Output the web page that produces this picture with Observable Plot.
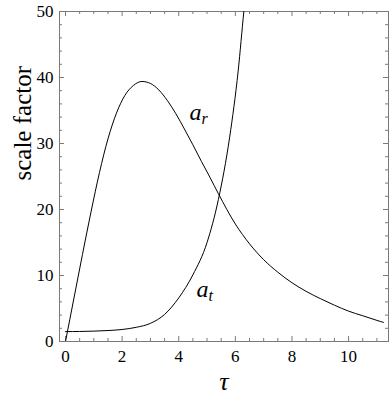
<!DOCTYPE html>
<html><head><meta charset="utf-8">
<script src="https://cdn.jsdelivr.net/npm/d3@7"></script>
<script src="https://cdn.jsdelivr.net/npm/@observablehq/plot@0.6"></script>
<style>body{margin:0;background:#fff}</style>
</head><body><div id="chart"></div>
<script>
// a_r curve (tau, scale factor)
const tauR = [0, 0.3, 0.6, 0.9, 1.2, 1.5, 1.8, 2.1, 2.4, 2.7, 3.0, 3.3, 3.6, 3.9, 4.2, 4.5, 4.8, 5.1, 5.4, 6.0, 6.5, 7.0, 7.5, 8.0, 8.5, 9.0, 9.5, 10.0, 10.5, 11.0, 11.23];
const aR   = [0, 6.6, 13.2, 19.6, 25.6, 30.7, 34.6, 37.3, 38.8, 39.4, 39.1, 38.1, 36.5, 34.5, 32.2, 29.8, 27.3, 24.9, 22.4, 17.8, 14.8, 12.4, 10.5, 8.9, 7.6, 6.5, 5.5, 4.6, 3.9, 3.2, 2.9];
// a_t curve
const tauT = [0, 0.5, 1.0, 1.5, 2.0, 2.5, 3.0, 3.5, 4.0, 4.5, 5.0, 5.4, 5.8, 6.1, 6.3, 6.5];
const aT   = [1.5, 1.52, 1.57, 1.66, 1.82, 2.15, 2.75, 4.1, 6.6, 10.1, 15.0, 21.5, 31.0, 41.0, 50.0, 58.0];
// ticks
const xMajor = [0, 2, 4, 6, 8, 10];
const xMinor = [0.5, 1, 1.5, 2.5, 3, 3.5, 4.5, 5, 5.5, 6.5, 7, 7.5, 8.5, 9, 9.5, 10.5, 11];
const yMajor = [0, 10, 20, 30, 40, 50];
const yMinor = [2, 4, 6, 8, 12, 14, 16, 18, 22, 24, 26, 28, 32, 34, 36, 38, 42, 44, 46, 48];
// curve labels: base letter, subscript, anchor (tau, a)
const labelBase = ["a", "a"];
const labelSub = ["r", "t"];
const labelTau = [4.38, 4.63];
const labelA = [33.6, 6.8];

const rCurve = tauR.map((t, i) => ({t, a: aR[i]}));
const tCurve = tauT.map((t, i) => ({t, a: aT[i]}));
const labels = labelBase.map((b, i) => ({b, s: labelSub[i], t: labelTau[i], a: labelA[i]}));

const W = 389, H = 403, mL = 59, mR = 1, mT = 11, mB = 62;
const xDom = [-0.212, 11.41], yDom = [0, 50];
// pixel tick lengths converted to data units
const ux = (xDom[1] - xDom[0]) / (W - mL - mR);
const uy = (yDom[1] - yDom[0]) / (H - mT - mB);
const gray = "#7a7a7a";
const ff = "Liberation Serif";
const ruleStyle = {stroke: gray, strokeWidth: 1};
const xTicks = (data, px) => [
  Plot.ruleX(data, {x: d => d, y1: yDom[0], y2: yDom[0] + px * uy, ...ruleStyle}),
  Plot.ruleX(data, {x: d => d, y1: yDom[1], y2: yDom[1] - px * uy, ...ruleStyle})
];
const yTicks = (data, px) => [
  Plot.ruleY(data, {y: d => d, x1: xDom[0], x2: xDom[0] + px * ux, ...ruleStyle}),
  Plot.ruleY(data, {y: d => d, x1: xDom[1], x2: xDom[1] - px * ux, ...ruleStyle})
];

const chart = Plot.plot({
  width: W, height: H,
  marginLeft: mL, marginRight: mR, marginTop: mT, marginBottom: mB,
  x: {domain: xDom},
  y: {domain: yDom},
  marks: [
    Plot.frame({stroke: gray}),
    xTicks(xMajor, 5), xTicks(xMinor, 3),
    yTicks(yMajor, 5), yTicks(yMinor, 3),
    // tick labels
    Plot.axisX(xMajor, {anchor: "bottom", tickSize: 0, tickPadding: 8, fontSize: 17, fontFamily: ff, label: null}),
    Plot.axisY(yMajor, {anchor: "left", tickSize: 0, tickPadding: 6, fontSize: 17, fontFamily: ff, label: null}),
    // curves
    Plot.line(rCurve, {x: "t", y: "a", stroke: "#000", strokeWidth: 1, curve: "monotone-x", clip: true}),
    Plot.line(tCurve, {x: "t", y: "a", stroke: "#000", strokeWidth: 1, curve: "monotone-x", clip: true}),
    // curve labels
    Plot.text(labels, {x: "t", y: "a", text: "b", textAnchor: "start", lineAnchor: "bottom", fontSize: 24, fontFamily: ff, fontStyle: "italic"}),
    Plot.text(labels, {x: "t", y: "a", text: "s", textAnchor: "start", lineAnchor: "bottom", fontSize: 16, fontFamily: ff, fontStyle: "italic", dx: 12, dy: 4}),
    // axis titles
    Plot.text(["τ"], {frameAnchor: "bottom", dy: 48, fontSize: 26, fontFamily: ff, fontStyle: "italic"}),
    Plot.text(["scale factor"], {frameAnchor: "left", dx: -37, dy: 4, rotate: -90, fontSize: 25, fontFamily: ff})
  ]
});
document.getElementById("chart").appendChild(chart);
</script>
</body></html>
